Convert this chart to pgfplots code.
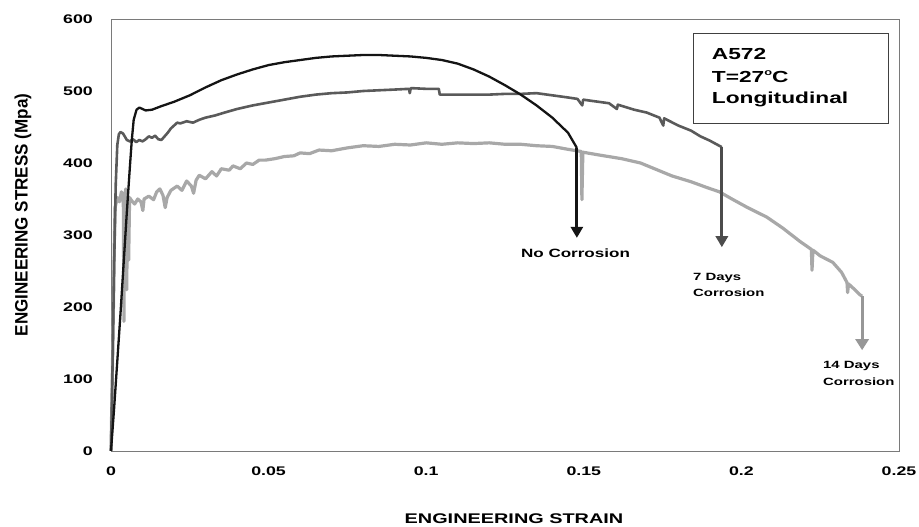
\documentclass[border=0pt]{standalone}
\usepackage{fontspec}
\setmainfont{Liberation Sans}[FakeStretch=1.42]
\usepackage{pgfplots}
\pgfplotsset{compat=1.18}
\usetikzlibrary{arrows.meta}

\definecolor{cNo}{HTML}{141414}
\definecolor{cSeven}{HTML}{5A5A5A}
\definecolor{cFourteen}{HTML}{A8A8A8}
\definecolor{cAxis}{HTML}{7A7A7A}

\begin{document}
\begin{tikzpicture}
\useasboundingbox (-111pt,-76pt) rectangle (808pt,451pt);
\begin{axis}[
  scale only axis, width=788pt, height=432pt,
  at={(0pt,0pt)}, anchor=south west,
  xmin=0, xmax=0.25, ymin=0, ymax=600,
  xtick={0,0.05,0.1,0.15,0.2,0.25},
  xticklabels={0,0.05,0.1,0.15,0.2,0.25},
  ytick={0,100,200,300,400,500,600},
  yticklabels={0,100,200,300,400,500,600},
  /pgf/number format/assume math mode=true,
  major tick length=0pt,
  axis line style={draw=cAxis, line width=0.9pt},
  tick label style={font=\fontsize{12.5}{14}\selectfont\bfseries, inner sep=0pt},
  xticklabel style={anchor=base, yshift=-24.5pt},
  yticklabel style={anchor=base east, xshift=-18pt, yshift=-4.4pt},
  clip=false,
]
% 14 days corrosion
\addplot[cFourteen, line width=3.2pt, line join=round] coordinates {
(0,0) (0.0004,100) (0.0008,210) (0.0011,300) (0.0013,338) (0.002,352) (0.0027,346) (0.0033,360) (0.0039,355) (0.0041,180) (0.0043,352) (0.0047,364) (0.0050,224) (0.0052,356) (0.0056,265) (0.0059,352) (0.0065,348) (0.0075,343) (0.0085,350) (0.0095,346) (0.0101,334) (0.0105,350) (0.012,354) (0.0135,349) (0.0145,360) (0.0155,364) (0.0165,355) (0.0172,338) (0.0178,352) (0.019,362) (0.021,368) (0.0225,362) (0.024,375) (0.0255,368) (0.0262,358) (0.027,376) (0.028,383) (0.03,378) (0.032,388) (0.0335,382) (0.035,392) (0.0375,390) (0.0387,396) (0.041,392) (0.043,400) (0.045,398) (0.047,404) (0.049,404) (0.052,406) (0.055,409) (0.058,410) (0.06,414) (0.063,413) (0.066,418) (0.07,417) (0.075,421) (0.08,424) (0.085,423) (0.09,426) (0.095,425) (0.1,428) (0.105,426) (0.11,428) (0.115,427) (0.12,428) (0.125,426) (0.13,426) (0.135,424) (0.14,423) (0.145,419) (0.1492,416) (0.1494,349) (0.1497,415) (0.155,411) (0.162,406) (0.168,400) (0.173,391) (0.178,382) (0.184,374) (0.189,366) (0.193,360) (0.197,350) (0.202,338) (0.208,325) (0.213,310) (0.2186,291) (0.2222,280) (0.2224,251) (0.2227,279) (0.225,271) (0.229,262) (0.2318,248) (0.2335,234) (0.2337,220) (0.234,232) (0.236,224) (0.2376,217) (0.2383,215)
};
% 7 days corrosion
\addplot[cSeven, line width=2.6pt, line join=round] coordinates {
(0,0) (0.0005,120) (0.001,260) (0.0015,370) (0.002,425) (0.0025,440) (0.003,443) (0.0038,441) (0.0045,436) (0.005,432) (0.006,430) (0.007,433) (0.008,429) (0.009,432) (0.010,430) (0.011,433) (0.012,437) (0.013,435) (0.014,438) (0.015,433) (0.016,432) (0.017,437) (0.018,442) (0.019,448) (0.020,452) (0.021,456) (0.022,455) (0.024,458) (0.026,456) (0.028,460) (0.03,463) (0.033,466) (0.036,470) (0.04,475) (0.045,480) (0.05,484) (0.055,488) (0.06,492) (0.065,495) (0.07,497) (0.075,498) (0.08,500) (0.085,501) (0.09,502) (0.0945,503) (0.0948,497) (0.0951,504) (0.1,503) (0.104,503) (0.1043,495) (0.11,495) (0.115,495) (0.12,495) (0.125,496) (0.13,496) (0.135,497) (0.14,494) (0.145,491) (0.148,489) (0.1495,480) (0.1498,488) (0.153,486) (0.158,483) (0.1605,475) (0.1608,481) (0.166,474) (0.17,470) (0.174,463) (0.1752,452) (0.1755,462) (0.18,452) (0.184,445) (0.187,437) (0.19,431) (0.1938,422)
};
% no corrosion
\addplot[cNo, line width=2.3pt, line join=round] coordinates {
(0,0) (0.001,60) (0.002,125) (0.003,190) (0.004,260) (0.005,330) (0.006,395) (0.0066,432) (0.0072,460) (0.0081,474) (0.009,477) (0.011,473) (0.013,474) (0.016,479) (0.02,485) (0.025,494) (0.03,505) (0.035,515) (0.04,523) (0.045,530) (0.05,536) (0.055,540) (0.06,543) (0.065,546) (0.07,548) (0.075,549) (0.08,550) (0.085,550) (0.09,549) (0.095,548) (0.1,546) (0.105,543) (0.11,538) (0.115,530) (0.12,520) (0.125,508) (0.13,495) (0.135,480) (0.14,463) (0.145,442) (0.1478,421)
};
% fracture arrows
\addplot[cFourteen!90!black, line width=3pt, -{Triangle[width=13pt,length=11pt]}] coordinates {(0.2383,215) (0.2383,140)};
\addplot[cSeven!85!black, line width=2.8pt, -{Triangle[width=12pt,length=11pt]}] coordinates {(0.1938,422) (0.1938,283)};
\addplot[cNo, line width=2.8pt, -{Triangle[width=12pt,length=11pt]}] coordinates {(0.1478,421) (0.1478,296)};
\end{axis}
% axis titles
\node[font=\fontsize{14}{16}\selectfont\bfseries, anchor=base, inner sep=0pt] at (403pt,-73pt) {ENGINEERING STRAIN};
\node[rotate=90, yscale=1.5, font=\fontsize{12}{14}\selectfont\bfseries, inner sep=0pt] at (-88pt,236pt) {ENGINEERING STRESS (Mpa)};
% info box
\draw[draw=black!75, line width=0.8pt] (582pt,328pt) rectangle (777pt,418pt);
\node[font=\fontsize{16}{18}\selectfont\bfseries, anchor=base west, inner sep=0pt] at (600.7pt,391pt) {A572};
\node[font=\fontsize{16}{18}\selectfont\bfseries, anchor=base west, inner sep=0pt] at (600.7pt,368pt) {T=27\raisebox{0.45em}{\fontsize{9}{10}\selectfont o}C};
\node[font=\fontsize{16}{18}\selectfont\bfseries, anchor=base west, inner sep=0pt] at (600.7pt,347pt) {Longitudinal};
% arrow labels
\node[font=\fontsize{12}{14}\selectfont\bfseries, anchor=base, inner sep=0pt] at (464.5pt,193pt) {No Corrosion};
\node[font=\fontsize{10.5}{12}\selectfont\bfseries, anchor=base west, inner sep=0pt] at (582pt,170pt) {7 Days};
\node[font=\fontsize{10.5}{12}\selectfont\bfseries, anchor=base west, inner sep=0pt] at (582pt,154pt) {Corrosion};
\node[font=\fontsize{10.5}{12}\selectfont\bfseries, anchor=base west, inner sep=0pt] at (712pt,82pt) {14 Days};
\node[font=\fontsize{10.5}{12}\selectfont\bfseries, anchor=base west, inner sep=0pt] at (712pt,65pt) {Corrosion};
\end{tikzpicture}
\end{document}
